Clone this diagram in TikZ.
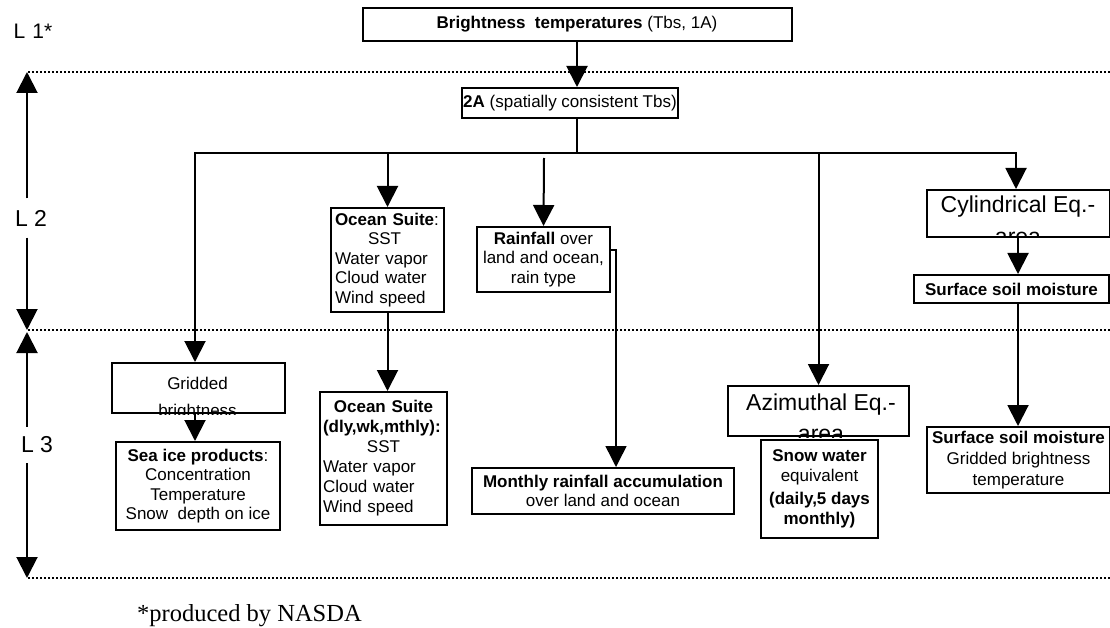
\documentclass[tikz,border=0pt]{standalone}
\usepackage{fontspec}
\setmainfont{Liberation Sans}
\newfontfamily\notefont{Liberation Serif}
\usetikzlibrary{arrows.meta}

\def\txt{\fontsize{17}{19.5}\selectfont}
\def\bigtxt{\fontsize{23}{27}\selectfont}
\def\tip{Triangle[length=21pt,width=21pt]}

\begin{document}
\begin{tikzpicture}[x=1pt, y=-1pt, every node/.style={font=\txt},
    box/.style={draw, line width=2pt, inner sep=0pt, align=center},
    arr/.style={line width=2pt, -{\tip}},
    arrboth/.style={line width=2pt, {\tip}-{\tip}},
    dotline/.style={line width=2pt, dash pattern=on 2pt off 2pt},
    lab/.style={inner sep=0pt, font=\bigtxt}]
      \useasboundingbox (0,0) rectangle (1110,628);

      \coordinate (lv1) at (27,72);
      \coordinate (lv2) at (27,330);
      \coordinate (lv3) at (27,578);
      \coordinate (edge) at (1110,0);
      \draw[dotline] ([xshift=1pt]lv1) -- (lv1 -| edge);
      \draw[dotline] ([xshift=1pt]lv2) -- (lv2 -| edge);
      \draw[dotline] ([xshift=1pt]lv3) -- (lv3 -| edge);

      \node[lab, font=\fontsize{21}{24}\selectfont] (l1lab) at (33,31) {L\hspace{7pt}1*};
      \node[lab, minimum height=39] (l2lab) at (31,218) {L 2};
      \node[lab, minimum height=36] (l3lab) at (37,445) {L 3};
      \draw[arr] (lv1 |- l2lab.north) -- (lv1);
      \draw[arr] (lv1 |- l2lab.south) -- (lv2);
      \draw[arr] (lv1 |- l3lab.north) -- ([yshift=-2pt]lv2);
      \draw[arr] (lv1 |- l3lab.south) -- (lv3);

      % level 1 and 2
      \node[box, minimum width=429, minimum height=33] (bt) at (577,24.5)
          {\textbf{Brightness\ \ temperatures} (Tbs, 1A)};
      \node[box, minimum width=216, minimum height=30] (l2a) at (570,103)
          {\textbf{2A} (spatially consistent Tbs)};
      \node[box, minimum width=113, minimum height=104, text width=105, align=left] (oc2) at (387.5,260)
          {\textbf{Ocean Suite}:\\ \hspace*{33pt}SST\\ Water vapor\\ Cloud water\\ Wind speed};
      \node[box, minimum width=133, minimum height=65] (rain) at (543.5,259.5)
          {\textbf{Rainfall} over\\ land and ocean,\\ rain type};
      \node[box, minimum width=183, minimum height=47] (cyl) at (1018,213.5) {};
      \node[box, minimum width=195, minimum height=28] (soil2) at (1011.5,289)
          {\textbf{Surface soil moisture}};

      % level 3
      \node[box, minimum width=173, minimum height=50] (grid) at (198.5,388) {};
      \node[box, minimum width=164, minimum height=88] (sea) at (198,486)
          {\textbf{Sea ice products}:\\ Concentration\\ Temperature\\ Snow\ \ depth on ice};
      \node[box, minimum width=127, minimum height=133, text width=121, align=left,
            font=\fontsize{17}{20}\selectfont] (oc3) at (383.5,458.5)
          {\makebox[121pt]{\textbf{Ocean Suite}}\\ \textbf{(dly,wk,mthly):}\\ \makebox[121pt]{SST}\\
           Water vapor\\ Cloud water\\ Wind speed};
      \node[box, minimum width=262, minimum height=46] (month) at (603,491)
          {\textbf{Monthly rainfall accumulation}\\ over land and ocean};
      \node[box, minimum width=181, minimum height=50] (azi) at (818.5,411) {};
      \node[box, minimum width=117, minimum height=98] (snow) at (819.5,489)
          {\textbf{Snow water}\\ equivalent\\[4pt] \textbf{(daily,5 days}\\ \textbf{monthly)}};
      \node[box, minimum width=183, minimum height=66, font=\fontsize{17}{21}\selectfont] (soil3) at (1018.5,460)
          {\textbf{Surface soil moisture}\\ Gridded brightness\\ temperature};

      \begin{scope}
        \clip (cyl.south west) rectangle (cyl.north east);
        \node[anchor=base, font=\bigtxt] (cylt1) at (1018,213) {Cylindrical Eq.-};
        \node[anchor=base, font=\bigtxt] (cylt2) at (1018,244) {area};
      \end{scope}
      \begin{scope}
        \clip (azi.south west) rectangle (azi.north east);
        \node[anchor=base, font=\bigtxt] (azit1) at (821,410) {Azimuthal Eq.-};
        \node[anchor=base, font=\bigtxt] (azit2) at (821,441) {area};
      \end{scope}
      \begin{scope}
        \clip (grid.south west) rectangle (grid.north east);
        \node[anchor=base] (gridt1) at (197.5,389) {Gridded};
        \node[anchor=base] (gridt2) at (197.5,416) {brightness};
      \end{scope}

      \coordinate (busL) at (195,153);
      \coordinate (busR) at (1016,153);
      \coordinate (rainin) at (544,158);
      \coordinate (rainbend) at (616,250);
      \draw[arr] (bt.south) -- (bt.south |- l2a.north);
      \draw[line width=2pt] (bt.south |- l2a.south) -- (bt.south |- busL);
      \draw[arrboth] (busR |- cyl.north) -- (busR) -- (busL) -- (busL |- grid.north);
      \draw[arr] (oc2.north |- busL) -- (oc2.north);
      \draw[arr] (rainin) -- (rain.north);
      \draw[arr] (azi.north |- busL) -- (azi.north);
      \draw[arr] (cyl.south) -- (cyl.south |- soil2.north);
      \draw[arr] (cyl.south |- soil2.south) -- (cyl.south |- soil3.north);
      \draw[arr] (oc2.south) -- (oc2.south |- oc3.north);
      \draw[arr] (busL |- grid.south) -- (busL |- sea.north);
      \draw[line width=1.5pt, -{\tip}] (rain.east |- rainbend) -- (rainbend) -- (rainbend |- month.north);

      \node[anchor=base west, inner sep=0pt, font=\notefont\fontsize{24.5}{28}\selectfont] (note)
          at (137,621) {*produced by NASDA};
    \end{tikzpicture}
\end{document}
